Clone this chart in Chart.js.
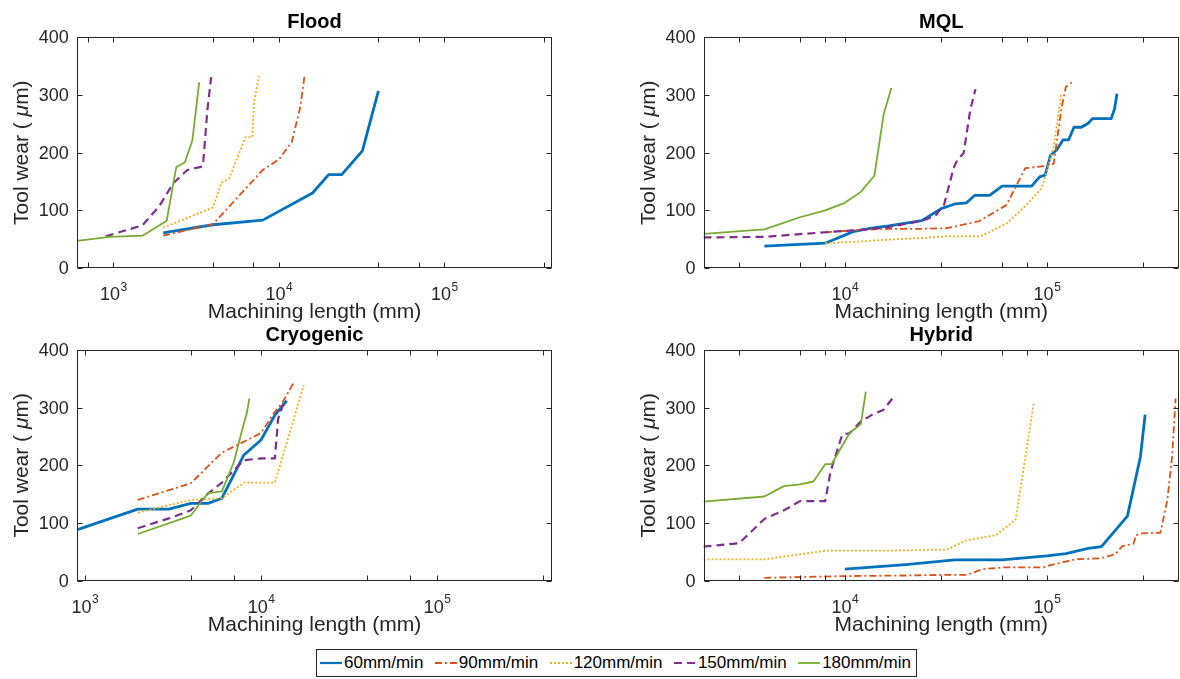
<!DOCTYPE html>
<html>
<head>
<meta charset="utf-8">
<title>Tool wear vs machining length</title>
<script src="https://cdn.jsdelivr.net/npm/chart.js@4.4.1/dist/chart.umd.min.js"></script>
<style>
  html, body { margin: 0; padding: 0; background: #fff; }
  #wrap { position: relative; width: 1180px; height: 679px; overflow: hidden;
          font-family: "Liberation Sans", Arial, Helvetica, sans-serif; }
  .panel { position: absolute; width: 590px; height: 340px; }
  #legend { position: absolute; left: 316px; top: 649px; width: 601px; height: 28px;
            box-sizing: border-box; border: 1px solid #262626; background: #fff;
            display: flex; align-items: center; justify-content: space-between;
            padding: 0 5px 0 3px;
            font-size: 17px; color: #000; white-space: nowrap; }
  .item { display: flex; align-items: center; }
  .item svg { margin-right: 2px; }
</style>
</head>
<body>
<div id="wrap">
  <div class="panel" style="left:0;top:0"><canvas id="cFlood" width="590" height="340"></canvas></div>
  <div class="panel" style="left:590px;top:0"><canvas id="cMql" width="590" height="340"></canvas></div>
  <div class="panel" style="left:0;top:312px"><canvas id="cCryo" width="590" height="340"></canvas></div>
  <div class="panel" style="left:590px;top:312px"><canvas id="cHybrid" width="590" height="340"></canvas></div>
  <div id="legend"></div>
</div>
<script>
// Feed-rate series labels
const speeds = ['60mm/min', '90mm/min', '120mm/min', '150mm/min', '180mm/min'];

// ---- Flood: machining length (mm) and flank wear (µm)
const floodLen60  = [2000, 4000, 8000, 16000, 20000, 24000, 32000, 40000];
const floodWear60 = [61, 75, 83, 130, 162, 162, 203, 307];
const floodLen90  = [2000, 4000, 6000, 8000, 10000, 12000, 13500, 14300];
const floodWear90 = [56, 76, 131, 170, 188, 219, 280, 333];
const floodLen120  = [2000, 4000, 4500, 5000, 6300, 6900, 7100, 7600];
const floodWear120 = [70, 105, 148, 155, 227, 227, 290, 333];
const floodLen150  = [900, 1500, 1900, 2300, 2800, 3450, 3500, 3700, 3900];
const floodWear150 = [55, 74, 108, 147, 170, 176, 187, 274, 331];
const floodLen180  = [600, 950, 1500, 2100, 2400, 2700, 3000, 3300];
const floodWear180 = [47, 54, 56, 82, 175, 183, 221, 322];

// ---- MQL
const mqlLen60  = [4000, 8000, 11000, 13500, 16500, 24000, 30000, 35000, 40000, 44000, 52000, 60000, 84000, 92000, 98000, 104000, 112000, 120000, 128000, 136000, 148000, 160000, 168000, 208000, 216000, 222000];
const mqlWear60 = [38, 43, 63, 69, 73, 82, 103, 111, 113, 126, 126, 142, 142, 158, 161, 195, 205, 222, 222, 244, 244, 251, 259, 259, 276, 302];
const mqlLen90  = [8000, 12000, 16000, 24000, 32000, 46000, 63000, 78000, 100000, 108000, 118000, 124000, 134000];
const mqlWear90 = [62, 66, 68, 68, 69, 81, 109, 173, 177, 181, 277, 314, 323];
const mqlLen120  = [8000, 12000, 16000, 24000, 32000, 47000, 63000, 78000, 94000, 98000, 108000, 118000];
const mqlWear120 = [43, 46, 49, 52, 55, 55, 77, 107, 138, 158, 210, 303];
const mqlLen150  = [2000, 4000, 8000, 12000, 16000, 24000, 28000, 31000, 34500, 36000, 38700, 41800, 44300];
const mqlWear150 = [53, 54, 62, 66, 70, 82, 90, 110, 173, 187, 199, 275, 310];
const mqlLen180  = [2000, 4000, 6000, 8000, 10000, 12000, 14000, 15600, 17000];
const mqlWear180 = [59, 67, 88, 100, 113, 132, 160, 268, 312];

// ---- Cryogenic
const cryoLen60  = [900, 2000, 3000, 4000, 5000, 6000, 8000, 10000, 12000, 14000];
const cryoWear60 = [88, 124, 124, 134, 134, 143, 218, 244, 287, 312];
const cryoLen90  = [2000, 4000, 6000, 10000, 12000, 13300, 15500];
const cryoWear90 = [140, 169, 222, 256, 293, 310, 346];
const cryoLen120  = [2000, 4000, 6000, 8000, 12000, 17500];
const cryoWear120 = [118, 140, 143, 170, 170, 339];
const cryoLen150  = [2000, 3000, 4000, 5000, 6000, 8000, 10000, 12000, 12500, 13500];
const cryoWear150 = [91, 108, 122, 151, 170, 209, 212, 212, 280, 310];
const cryoLen180  = [2000, 4000, 5000, 6000, 7000, 8000, 8300, 8600];
const cryoWear180 = [81, 113, 152, 155, 205, 273, 290, 316];

// ---- Hybrid
const hybLen60  = [10000, 20000, 35000, 60000, 100000, 124000, 160000, 186000, 250000, 290000, 306000];
const hybWear60 = [20, 28, 36, 36, 43, 47, 56, 59, 112, 215, 288];
const hybLen90  = [4000, 10000, 20000, 30000, 40000, 48000, 60000, 96000, 104000, 138000, 186000, 218000, 236000, 268000, 276000, 296000, 364000, 394000, 416000, 433000];
const hybWear90 = [5, 8, 9, 10, 10, 20, 23, 23, 27, 37, 39, 46, 60, 64, 79, 82, 83, 140, 215, 316];
const hybLen120  = [2000, 4000, 8000, 16000, 32000, 40000, 56000, 70000, 86000];
const hybWear120 = [37, 37, 52, 52, 54, 70, 79, 106, 308];
const hybLen150  = [2000, 3000, 4000, 5000, 6000, 8000, 8500, 9700, 10600, 12000, 13700, 15500, 17500];
const hybWear150 = [59, 65, 107, 122, 138, 138, 189, 253, 256, 276, 288, 296, 319];
const hybLen180  = [2000, 4000, 5000, 6000, 7000, 8000, 8600, 10600, 12000, 12700];
const hybWear180 = [137, 146, 164, 167, 172, 202, 202, 257, 271, 328];

// Axis limits and tick values
const wearTicks = [0, 100, 200, 300, 400];
const lengthMax = 450000;

// Line styles (MATLAB default colour order)
const lineStyles = [
  { color: '#0072BD', width: 2.8, dash: [] },
  { color: '#D95319', width: 1.8, dash: [7, 3, 2, 3] },
  { color: '#EDB120', width: 1.8, dash: [2, 2] },
  { color: '#7E2F8E', width: 2.2, dash: [8, 5] },
  { color: '#77AC30', width: 1.8, dash: [] }
];

const TEXT = '#262626';
const FONT = '"Liberation Sans", Arial, Helvetica, sans-serif';

// Draws the boxed axes, inward ticks, labels and titles
const boxAxes = {
  id: 'boxAxes',
  afterDatasetsDraw(chart, args, opts) {
    const { ctx, chartArea: a, scales: { x, y } } = chart;
    const L = Math.round(a.left) + 0.5, R = Math.round(a.right) - 0.5;
    const T = Math.round(a.top) + 0.5, B = Math.round(a.bottom) - 0.5;
    ctx.save();
    ctx.strokeStyle = TEXT;
    ctx.lineWidth = 1;
    ctx.strokeRect(L, T, R - L, B - T);

    const tl = 5;
    ctx.beginPath();
    x.ticks.forEach(t => {
      const px = Math.round(x.getPixelForValue(t.value)) + 0.5;
      if (px < L - 0.1 || px > R + 0.1) return;
      ctx.moveTo(px, B); ctx.lineTo(px, B - tl);
      ctx.moveTo(px, T); ctx.lineTo(px, T + tl);
    });
    y.ticks.forEach(t => {
      const py = Math.round(y.getPixelForValue(t.value)) + 0.5;
      ctx.moveTo(L, py); ctx.lineTo(L + tl, py);
      ctx.moveTo(R, py); ctx.lineTo(R - tl, py);
    });
    ctx.stroke();

    // y tick labels
    ctx.fillStyle = TEXT;
    ctx.font = '18px ' + FONT;
    ctx.textAlign = 'right';
    ctx.textBaseline = 'middle';
    y.ticks.forEach(t => {
      ctx.fillText(String(t.value), a.left - 8, y.getPixelForValue(t.value) + 1);
    });

    // x tick labels: powers of ten with raised exponent
    ctx.textBaseline = 'alphabetic';
    ctx.textAlign = 'left';
    x.ticks.filter(t => t.major).forEach(t => {
      const px = x.getPixelForValue(t.value);
      const exp = String(Math.round(Math.log10(t.value)));
      ctx.font = '18px ' + FONT;
      const wb = ctx.measureText('10').width;
      ctx.font = '12px ' + FONT;
      const we = ctx.measureText(exp).width;
      const x0 = px - (wb + we) / 2;
      ctx.font = '18px ' + FONT;
      ctx.fillText('10', x0, a.bottom + 32);
      ctx.font = '12px ' + FONT;
      ctx.fillText(exp, x0 + wb + 0.5, a.bottom + 22.5);
    });

    // x axis title
    ctx.font = '21px ' + FONT;
    ctx.textAlign = 'center';
    ctx.fillText('Machining length (mm)', (a.left + a.right) / 2, a.bottom + 50);

    // y axis title, with italic micro sign
    ctx.save();
    ctx.translate(a.left - 54.5, (a.top + a.bottom) / 2);
    ctx.rotate(-Math.PI / 2);
    ctx.textBaseline = 'middle';
    ctx.textAlign = 'left';
    const parts = [['Tool wear ( ', '21px '], ['\u03BC', 'italic 21px '], ['m)', '21px ']];
    let total = 0;
    parts.forEach(p => { ctx.font = p[1] + FONT; total += ctx.measureText(p[0]).width; });
    let cx = -total / 2;
    parts.forEach(p => { ctx.font = p[1] + FONT; ctx.fillText(p[0], cx, 0); cx += ctx.measureText(p[0]).width; });
    ctx.restore();

    // panel title
    ctx.fillStyle = '#000';
    ctx.font = 'bold 20px ' + FONT;
    ctx.textAlign = 'center';
    ctx.fillText(opts.title, (a.left + a.right) / 2, a.top - 9);
    ctx.restore();
  }
};

// log-axis ticks at 1..9 x 10^n inside the range
function logTicks(scale) {
  const out = [];
  const lo = Math.floor(Math.log10(scale.min)), hi = Math.ceil(Math.log10(scale.max));
  for (let e = lo; e <= hi; e++) {
    for (let m = 1; m <= 9; m++) {
      const v = m * Math.pow(10, e);
      if (v >= scale.min * 0.999 && v <= scale.max * 1.001) out.push({ value: v, major: m === 1 });
    }
  }
  scale.ticks = out;
}

function makePanel(id, title, xMin, lens, wears, pad) {
  const datasets = lens.map((lv, i) => ({
    label: speeds[i],
    data: lv.map((v, k) => ({ x: v, y: wears[i][k] })),
    borderColor: lineStyles[i].color,
    borderWidth: lineStyles[i].width,
    borderDash: lineStyles[i].dash,
    borderJoinStyle: 'round',
    pointRadius: 0,
    tension: 0,
    fill: false,
    order: lens.length - i
  }));
  new Chart(document.getElementById(id), {
    type: 'line',
    data: { datasets },
    options: {
      responsive: false,
      animation: false,
      devicePixelRatio: 1,
      events: [],
      layout: { padding: pad },
      plugins: { legend: { display: false }, tooltip: { enabled: false }, boxAxes: { title } },
      scales: {
        x: { type: 'logarithmic', min: xMin, max: lengthMax, display: false, afterBuildTicks: logTicks },
        y: { type: 'linear', min: wearTicks[0], max: wearTicks[wearTicks.length - 1], display: false,
             afterBuildTicks: s => { s.ticks = wearTicks.map(v => ({ value: v })); } }
      }
    },
    plugins: [boxAxes]
  });
}

const padTopLeft = { left: 76.7, top: 37.3, right: 37.7, bottom: 72 };
const padTopRight = { left: 113.5, top: 37.3, right: 1, bottom: 72 };
const padBotLeft = { left: 76.7, top: 38, right: 37.7, bottom: 71.3 };
const padBotRight = { left: 113.5, top: 38, right: 1, bottom: 71.3 };

makePanel('cFlood', 'Flood', 600,
  [floodLen60, floodLen90, floodLen120, floodLen150, floodLen180],
  [floodWear60, floodWear90, floodWear120, floodWear150, floodWear180], padTopLeft);
makePanel('cMql', 'MQL', 2000,
  [mqlLen60, mqlLen90, mqlLen120, mqlLen150, mqlLen180],
  [mqlWear60, mqlWear90, mqlWear120, mqlWear150, mqlWear180], padTopRight);
makePanel('cCryo', 'Cryogenic', 900,
  [cryoLen60, cryoLen90, cryoLen120, cryoLen150, cryoLen180],
  [cryoWear60, cryoWear90, cryoWear120, cryoWear150, cryoWear180], padBotLeft);
makePanel('cHybrid', 'Hybrid', 2000,
  [hybLen60, hybLen90, hybLen120, hybLen150, hybLen180],
  [hybWear60, hybWear90, hybWear120, hybWear150, hybWear180], padBotRight);

// Shared legend
const legend = document.getElementById('legend');
speeds.forEach((name, i) => {
  const st = lineStyles[i];
  const item = document.createElement('div');
  item.className = 'item';
  const dash = st.dash.length ? ` stroke-dasharray="${st.dash.join(' ')}"` : '';
  item.innerHTML = `<svg width="22" height="10"><line x1="0" y1="5" x2="22" y2="5" stroke="${st.color}" stroke-width="${Math.min(st.width, 2.2)}"${dash}/></svg><span>${name}</span>`;
  legend.appendChild(item);
});
</script>
</body>
</html>
